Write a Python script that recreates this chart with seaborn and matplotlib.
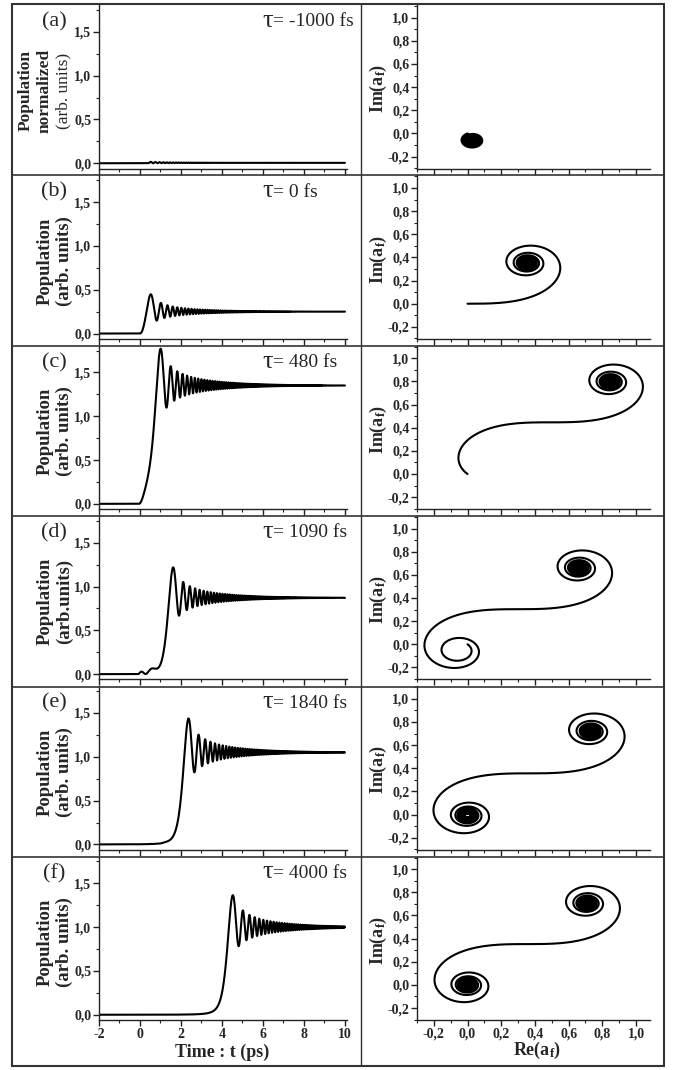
import numpy as np
import pandas as pd
import matplotlib
matplotlib.use("Agg")
import matplotlib.pyplot as plt
import seaborn as sns
from matplotlib.lines import Line2D
from matplotlib.ticker import MultipleLocator, FuncFormatter
from matplotlib.font_manager import FontProperties

# ---------------- data ----------------
panel_letters = ["(a)", "(b)", "(c)", "(d)", "(e)", "(f)"]
tau_fs = [-1000, 0, 480, 1090, 1840, 4000]
tau_texts = ["= -1000 fs", "= 0 fs", "= 480 fs", "= 1090 fs", "= 1840 fs", "= 4000 fs"]
final_population = [0.0045, 0.25, 1.35, 0.87, 1.05, 1.00]     # plateau value of each population curve
spiral_start = [3.21, 0.0, -1.22, -2.74, -12.0, -40.0]        # Cornu-spiral parameter where a_f starts
chirp_rate = 2.3                                               # spiral parameter per ps
pulse_width = 12.0                                             # envelope width in spiral parameter
left_ylabels = ["Population\nnormalized\n(arb. units)", "Population\n(arb. units)",
                "Population\n(arb. units)", "Population\n(arb.units)",
                "Population\n(arb. units)", "Population\n(arb. units)"]
time_ticks = [-2, 0, 2, 4, 6, 8, 10]
pop_ticks = [0.0, 0.5, 1.0, 1.5]
re_ticks = [-0.2, 0.0, 0.2, 0.4, 0.6, 0.8, 1.0]
im_ticks = [-0.2, 0.0, 0.2, 0.4, 0.6, 0.8, 1.0]
t_range = (-2.0, 10.0)


def amplitude(tau_ps, u0, pfinal):
    u_lo = min(u0, chirp_rate * (t_range[0] - tau_ps))
    u_hi = chirp_rate * (t_range[1] - tau_ps)
    u = np.arange(u_lo, u_hi, 0.0004)
    f = np.exp(1j * np.pi * u ** 2 / 2) * np.exp(-(u / pulse_width) ** 2) * (u >= u0)
    a = np.concatenate([[0], np.cumsum((f[1:] + f[:-1]) / 2 * np.diff(u))])
    t = u / chirp_rate + tau_ps
    m = t >= t_range[0]
    s = np.sqrt(pfinal) / abs(a[-1])
    return t[m], s * a[m]


# ---------------- style ----------------
sns.set_theme(style="ticks")
plt.rcParams["font.family"] = ["Liberation Serif", "DejaVu Serif"]
plt.rcParams["mathtext.fontset"] = "custom"
plt.rcParams["mathtext.bf"] = "Liberation Serif:bold"
plt.rcParams["mathtext.rm"] = "Liberation Serif:bold"
plt.rcParams["mathtext.default"] = "bf"

W, H = 674, 1070
fig = plt.figure(figsize=(W / 100, H / 100), dpi=100)
fig.patch.set_facecolor("white")


def fx(px):
    return px / W


def fy(py):
    return 1 - py / H


comma = FuncFormatter(lambda v, p: f"{v:.1f}".replace(".", ","))
intfmt = FuncFormatter(lambda v, p: f"{v:.0f}")

row_pitch = 170.3
ax_h = 163.5
L_x0, L_x1 = 99, 347
R_x0, R_x1 = 417, 650
tick_fp = FontProperties(family="Liberation Serif", weight="bold", size=10)

for i in range(6):
    spine_y = 168.5 + row_pitch * i
    top_y = spine_y - ax_h
    t, a = amplitude(tau_fs[i] / 1000.0, spiral_start[i], final_population[i])
    pop = np.abs(a) ** 2

    # ---- left: population vs time
    axl = fig.add_axes([fx(L_x0), fy(spine_y), fx(L_x1 - L_x0), ax_h / H])
    sns.lineplot(x=t, y=pop, ax=axl, color="black", lw=1.5, estimator=None, sort=False)
    axl.set_xlim(-2, 10.1)
    axl.set_ylim(-0.06, 1.806)
    axl.xaxis.set_minor_locator(MultipleLocator(1))
    axl.yaxis.set_minor_locator(MultipleLocator(0.25))
    axl.set_yticks(pop_ticks)
    axl.set_xticks(time_ticks)
    axl.yaxis.set_major_formatter(comma)
    axl.xaxis.set_major_formatter(intfmt)

    # ---- right: Im vs Re
    axr = fig.add_axes([fx(R_x0), fy(spine_y), fx(R_x1 - R_x0), ax_h / H])
    sns.lineplot(x=a.real, y=a.imag, ax=axr, color="black", lw=1.5, estimator=None, sort=False)
    axr.set_xlim(-0.3, 1.083)
    axr.set_ylim(-0.303, 1.109)
    axr.xaxis.set_minor_locator(MultipleLocator(0.1))
    axr.yaxis.set_minor_locator(MultipleLocator(0.1))
    axr.set_yticks(im_ticks)
    axr.set_xticks(re_ticks)
    axr.yaxis.set_major_formatter(comma)
    axr.xaxis.set_major_formatter(comma)

    for ax in (axl, axr):
        ax.set_facecolor("none")
        ax.set_xlabel("")
        ax.set_ylabel("")
        for sp in ("top", "right"):
            ax.spines[sp].set_visible(False)
        for sp in ("left", "bottom"):
            ax.spines[sp].set_linewidth(1.0)
            ax.spines[sp].set_color("#222222")
        ax.tick_params(which="major", direction="out", length=4, width=1, color="#222222", pad=1.5)
        ax.tick_params(which="minor", direction="out", length=2.5, width=0.8, color="#222222")
        for lab in ax.get_yticklabels():
            lab.set_fontproperties(tick_fp)
        if i < 5:
            ax.tick_params(axis="x", labelbottom=False)
        else:
            for lab in ax.get_xticklabels():
                lab.set_fontproperties(tick_fp)

    # ---- texts
    fig.text(fx(54), fy(top_y + 17), panel_letters[i], fontsize=16, ha="center", va="center")
    fig.text(fx(262), fy(top_y + 16), "τ", fontsize=19, ha="left", va="center")
    fig.text(fx(273), fy(top_y + 17), tau_texts[i], fontsize=14, ha="left", va="center")
    yc = (top_y + spine_y) / 2 + 4
    if i == 0:
        fig.text(fx(26), fy(yc), "Population", rotation=90, fontsize=12.5, weight="bold",
                 ha="center", va="center")
        fig.text(fx(45), fy(yc), "normalized", rotation=90, fontsize=12.5, weight="bold",
                 ha="center", va="center")
        fig.text(fx(63), fy(yc), "(arb. units)", rotation=90, fontsize=12.5,
                 ha="center", va="center")
    else:
        fig.text(fx(55), fy(yc), left_ylabels[i], rotation=90, fontsize=13.5, weight="bold",
                 ha="center", va="center", linespacing=1.1, multialignment="center")
    fig.text(fx(378), fy(yc - 2), "Im(a$_f$)", rotation=90, fontsize=13, weight="bold",
             ha="center", va="center")

fig.text(fx(222), fy(1052), "Time : t (ps)", fontsize=13, weight="bold", ha="center", va="center")
fig.text(fx(537), fy(1050), "Re(a$_f$)", fontsize=13, weight="bold", ha="center", va="center")

# ---------------- frame lines ----------------
fc = "#333333"
for ypx in [175, 345.5, 516, 686.5, 857]:
    fig.add_artist(Line2D([fx(12.5), fx(663.5)], [fy(ypx), fy(ypx)], color=fc, lw=1.2))
fig.add_artist(Line2D([fx(361), fx(361)], [fy(4), fy(1066)], color=fc, lw=1.0))
fig.add_artist(plt.Rectangle((fx(12.5), fy(1066)), fx(663.5 - 12.5), (1066 - 4) / H,
                             fill=False, ec=fc, lw=1.5, transform=fig.transFigure))

fig.savefig("out.png", dpi=100, facecolor="white")
